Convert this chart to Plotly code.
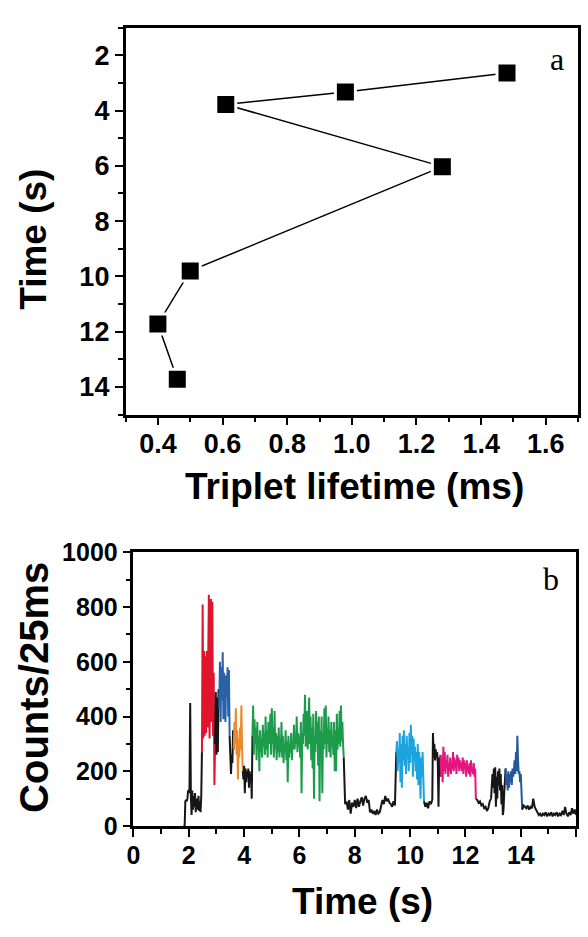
import plotly.graph_objects as go
import numpy as np

W, H = 588, 937

# ---------------- Panel a data ----------------
lifetime_ms = [1.48, 0.98, 0.61, 1.28, 0.50, 0.40, 0.46]
time_a_s = [2.64, 3.33, 3.78, 6.03, 9.80, 11.72, 13.72]

# ---------------- Panel b data (counts per 25 ms) ----------------
# each segment: start time (s), sampling step (s), counts
black1_t0, black1_dt = 1.80, 0.025
black1_v = [0, 0, 0, 90, 95, 90, 100, 130, 120, 140, 450, 110, 40, 130, 60, 110,
            70, 120, 50, 100, 80, 60, 110, 55, 90, 50, 110, 270]
red_t0, red_dt = 2.475, 0.025
red_v = [270, 810, 320, 640, 330, 620, 340, 640, 360, 630, 845, 320, 700, 830,
         380, 820, 330, 560, 150, 300]
black2_t0, black2_dt = 2.95, 0.025
black2_v = [300, 490, 260, 470, 270, 500, 430]
blue_t0, blue_dt = 3.10, 0.025
blue_v = [430, 600, 380, 580, 460, 635, 390, 560, 500, 380, 550, 470, 580, 400, 570, 330]
black3_t0, black3_dt = 3.475, 0.025
black3_v = [330, 220, 190, 260, 230, 350, 280]
orange_t0, orange_dt = 3.625, 0.025
orange_v = [280, 380, 300, 430, 260, 350, 170, 320, 250, 360, 280, 440, 290, 200]
black4_t0, black4_dt = 3.95, 0.025
black4_v = [200, 170, 220, 120, 210, 160, 200, 180, 210, 140, 200, 170, 190, 100, 330]
green_t0, green_dt = 4.30, 0.025
green_v = [330, 440, 260, 390, 300, 360, 240, 380, 280, 330,
           200, 350, 270, 320, 250, 370, 290, 340, 260, 400,
           280, 350, 250, 380, 300, 340, 410, 260, 430, 300,
           360, 250, 420, 280, 340, 240, 330, 270, 360, 250,
           320, 270, 380, 250, 330, 230, 300, 270, 350, 240,
           310, 160, 330, 250, 300, 270, 340, 240, 310, 280,
           370, 280, 330, 300, 400, 270, 340, 290, 330, 250,
           380, 120, 340, 300, 410, 330, 480, 290, 350, 420,
           280, 380, 470, 300, 400, 240, 360, 210, 410, 100,
           330, 270, 420, 300, 380, 220, 400, 90, 350, 260,
           400, 120, 340, 280, 430, 300, 440, 250, 360, 300,
           400, 270, 350, 250, 380, 290, 330, 260, 380, 200,
           350, 200, 410, 280, 360, 300, 420, 290, 440, 310,
           380, 300, 250]
black5_t0, black5_dt = 7.60, 0.05
black5_v = [250, 80, 90, 60, 95, 45, 85, 70, 95, 65, 100, 70, 90, 105, 75, 100, 110,
            85, 95, 50, 60, 45, 55, 40, 60, 45, 50, 75, 95, 80, 110, 90, 100, 85,
            80, 70, 90, 75, 270]
cyan_t0, cyan_dt = 9.50, 0.025
cyan_v = [270, 310, 200, 280, 230, 340, 160, 300, 140, 330,
          240, 350, 220, 300, 190, 330, 250, 290, 200, 340,
          230, 370, 260, 330, 180, 320, 240, 290, 200, 270,
          170, 300, 150, 270, 200, 100, 250, 180, 270, 120,
          90]
black6_t0, black6_dt = 10.50, 0.05
black6_v = [90, 70, 85, 65, 90, 80, 95]
black7_t0, black7_dt = 10.80, 0.025
black7_v = [95, 340, 250, 300, 240, 280, 250, 270, 230, 70, 250, 180, 260]
magenta_t0, magenta_dt = 11.10, 0.025
magenta_v = [260, 180, 250, 160, 290, 200, 270, 190, 240, 210,
             260, 180, 230, 200, 250, 190, 230, 210, 270, 200,
             250, 210, 240, 190, 260, 220, 250, 200, 240, 210,
             230, 200, 250, 190, 240, 210, 230, 180, 240, 200,
             220, 190, 230, 180, 240, 200, 210, 190, 230, 180,
             210, 100]
black8_t0, black8_dt = 12.375, 0.05
black8_v = [100, 95, 85, 90, 75, 80, 65, 70, 55, 65, 90, 100]
black9_t0, black9_dt = 12.925, 0.025
black9_v = [100, 130, 190, 140, 210, 120, 215, 70, 180, 100, 200, 150, 210, 130,
            190, 80, 150, 40, 60, 120, 180, 210]
navy_t0, navy_dt = 13.45, 0.025
navy_v = [210, 150, 190, 130, 200, 140, 190, 160, 200, 150, 210, 180, 200, 240,
          190, 270, 200, 330, 240, 190, 200, 160, 190, 120, 60]
black10_t0, black10_dt = 14.05, 0.05
black10_v = [60, 75, 70, 65, 75, 60, 70, 65, 100, 70, 60, 50, 40, 45, 35, 45, 40,
             50, 35, 45, 40, 50, 35, 45, 40, 50, 35, 45, 40, 55, 40, 70, 45, 35,
             50, 40, 65, 45, 60, 40]

BLACK = "#161616"
segments = [
    (black1_t0, black1_dt, black1_v, BLACK),
    (red_t0, red_dt, red_v, "#e1142e"),
    (black2_t0, black2_dt, black2_v, BLACK),
    (blue_t0, blue_dt, blue_v, "#2a62aa"),
    (black3_t0, black3_dt, black3_v, BLACK),
    (orange_t0, orange_dt, orange_v, "#ea8a2c"),
    (black4_t0, black4_dt, black4_v, BLACK),
    (green_t0, green_dt, green_v, "#1c9b4b"),
    (black5_t0, black5_dt, black5_v, BLACK),
    (cyan_t0, cyan_dt, cyan_v, "#1ca4e0"),
    (black6_t0, black6_dt, black6_v, BLACK),
    (black7_t0, black7_dt, black7_v, BLACK),
    (magenta_t0, magenta_dt, magenta_v, "#e2167e"),
    (black8_t0, black8_dt, black8_v, BLACK),
    (black9_t0, black9_dt, black9_v, BLACK),
    (navy_t0, navy_dt, navy_v, "#25579c"),
    (black10_t0, black10_dt, black10_v, BLACK),
]

fig = go.Figure()

# Panel a
fig.add_trace(go.Scatter(
    x=lifetime_ms, y=time_a_s, mode="lines+markers",
    line=dict(color="black", width=1.5),
    marker=dict(symbol="square", size=20, color="black",
                line=dict(color="white", width=3)),
    xaxis="x", yaxis="y", showlegend=False, hoverinfo="skip"))

# Panel b
for t0, dt, vals, col in segments:
    t = t0 + dt * np.arange(len(vals))
    fig.add_trace(go.Scatter(
        x=t, y=vals, mode="lines", line=dict(color=col, width=2),
        xaxis="x2", yaxis="y2", showlegend=False, hoverinfo="skip"))


def px(x):
    return x / W


def py(y):
    return 1 - y / H


TICKFONT_A = dict(family="Liberation Sans", size=27, color="black", weight="bold")
TICKFONT_B = dict(family="Liberation Sans", size=25, color="black", weight="bold")

common = dict(showgrid=False, zeroline=False, showline=True, linecolor="black",
              linewidth=2.5, mirror=True, ticks="outside", ticklen=8, tickwidth=2,
              tickcolor="black")


def minor(d):
    return dict(ticks="outside", ticklen=5, tickwidth=2, tickcolor="black",
                dtick=d, showgrid=False)


fig.update_layout(
    width=W, height=H, margin=dict(l=0, r=0, t=0, b=0),
    paper_bgcolor="white", plot_bgcolor="white",
    xaxis=dict(domain=[px(120), px(578)], anchor="y", range=[0.3, 1.7],
               tick0=0.4, dtick=0.2, tickformat=".1f", tickfont=TICKFONT_A,
               ticklabelstandoff=-5, minor=minor(0.1), **common),
    yaxis=dict(domain=[py(413), py(14)], anchor="x", range=[15, 1],
               tick0=2, dtick=2, tickfont=TICKFONT_A, minor=minor(1), **common),
    xaxis2=dict(domain=[px(128), px(576)], anchor="y2", range=[0, 16],
                tick0=0, dtick=2, tickfont=TICKFONT_B, ticklabelstandoff=-3,
                minor=minor(1), **common),
    yaxis2=dict(domain=[py(837), py(555)], anchor="x2", range=[0, 1000],
                tick0=0, dtick=200, tickfont=TICKFONT_B, minor=minor(100), **common),
)

TITLE = dict(family="Liberation Sans", size=37, color="black", weight="bold")
TITLE_V = dict(family="Liberation Sans", size=40, color="black", weight="bold")
SERIF = dict(family="Liberation Serif", size=32, color="black")
annots = [
    dict(text="Triplet lifetime (ms)", x=px(352), y=py(487), font=TITLE, textangle=0),
    dict(text="Time (s)", x=px(26), y=py(232), font=TITLE, textangle=-90),
    dict(text="Counts/25ms", x=px(28), y=py(694), font=TITLE_V, textangle=-90),
    dict(text="Time (s)", x=px(360), y=py(915), font=TITLE, textangle=0),
    dict(text="a", x=px(557), y=py(46), font=SERIF, textangle=0),
    dict(text="b", x=px(551), y=py(582), font=SERIF, textangle=0),
]
for a in annots:
    fig.add_annotation(xref="paper", yref="paper", xanchor="center", yanchor="middle",
                       showarrow=False, **a)

fig.write_html("out.html", config={"displayModeBar": False})
